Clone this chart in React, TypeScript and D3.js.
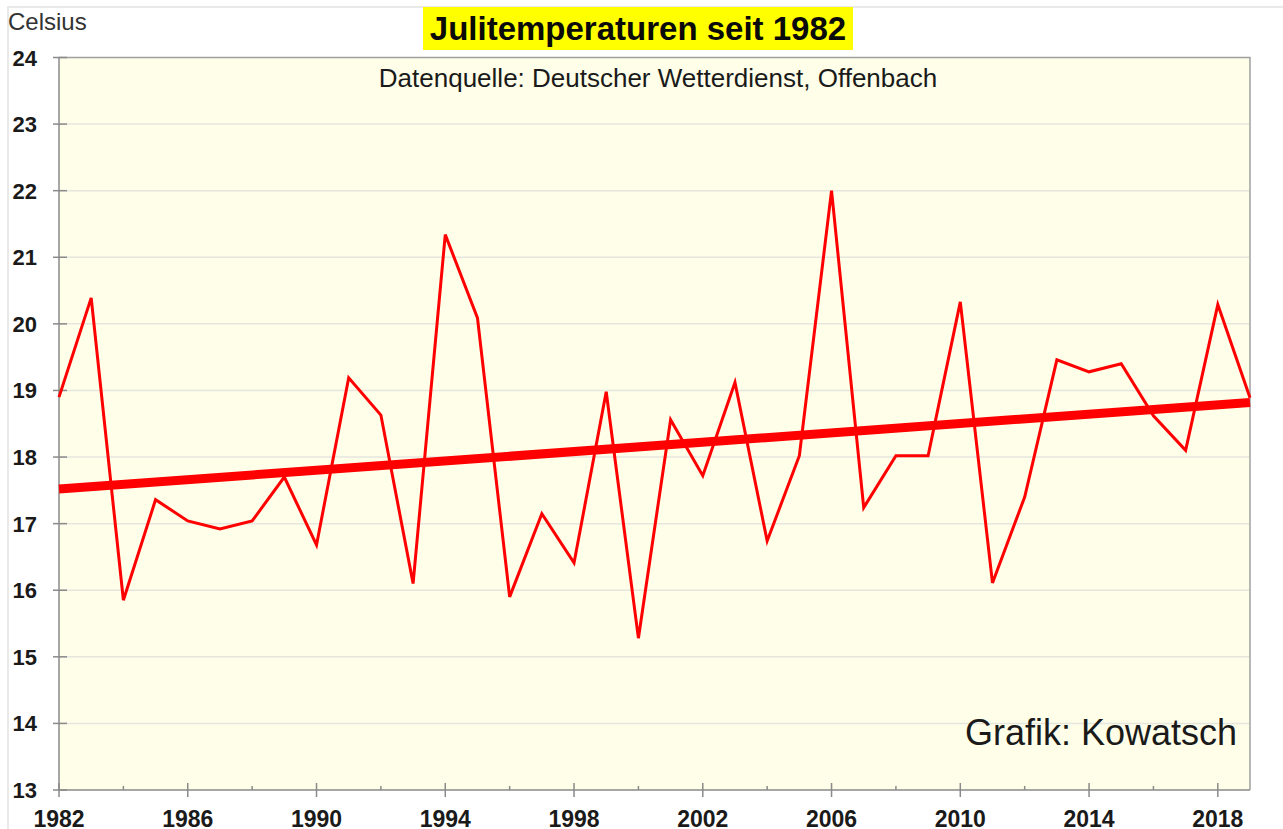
import { useRef, useEffect } from "react";
import { select, scaleLinear, line, range } from "d3";

const years = range(1982, 2020);
const temps = [
  18.9, 20.39, 15.85, 17.36, 17.04, 16.92, 17.04, 17.7, 16.68, 19.19,
  18.63, 16.1, 21.34, 20.09, 15.9, 17.15, 16.41, 18.98, 15.28, 18.56,
  17.72, 19.12, 16.74, 18.02, 22.0, 17.24, 18.02, 18.02, 20.33, 16.11,
  17.4, 19.46, 19.28, 19.4, 18.62, 18.1, 20.29, 18.89,
];
// trend line end points
const trendYears = [1982, 2019];
const trendValues = [17.52, 18.82];
const yTicks = range(13, 25);
const xMajorTicks = range(1982, 2020, 4);
const xMinorTicks = range(1984, 2020, 4);

const W = 1283;
const H = 829;
const FONT = "'Liberation Sans', Arial, sans-serif";

const App = () => {
  const svgRef = useRef(null);

  useEffect(() => {
    const svg = select(svgRef.current);
    svg.selectAll("*").remove();

    const x = scaleLinear().domain([1982, 2019]).range([59, 1250]);
    const y = scaleLinear().domain([13, 24]).range([790, 57.5]);

    // outer frame
    svg.append("rect")
      .attr("x", 8).attr("y", 7).attr("width", 1280).attr("height", 840)
      .attr("fill", "#fff").attr("stroke", "#e2e2e2").attr("stroke-width", 1.5);

    // plot background
    svg.append("rect")
      .attr("x", x(1982)).attr("y", y(24))
      .attr("width", x(2019) - x(1982)).attr("height", y(13) - y(24))
      .attr("fill", "#fefee9");

    // grid lines
    svg.selectAll(".grid")
      .data(yTicks.slice(1, -1))
      .join("line")
      .attr("class", "grid")
      .attr("x1", x(1982)).attr("x2", x(2019))
      .attr("y1", d => y(d)).attr("y2", d => y(d))
      .attr("stroke", "#e6e6df").attr("stroke-width", 1.5);

    // frame of plot: top and right
    svg.append("path")
      .attr("d", `M${x(1982)},${y(24)}H${x(2019)}V${y(13)}`)
      .attr("fill", "none").attr("stroke", "#a0a0a0").attr("stroke-width", 1.5);

    // axes lines
    svg.append("path")
      .attr("d", `M${x(1982)},${y(24)}V${y(13)}H${x(2019)}`)
      .attr("fill", "none").attr("stroke", "#8a8a8a").attr("stroke-width", 1.5);

    // y ticks
    svg.selectAll(".ytick")
      .data(yTicks)
      .join("line")
      .attr("class", "ytick")
      .attr("x1", x(1982) - 6).attr("x2", x(1982) + 8)
      .attr("y1", d => y(d)).attr("y2", d => y(d))
      .attr("stroke", "#8a8a8a").attr("stroke-width", 1.5);

    svg.selectAll(".ylabel")
      .data(yTicks)
      .join("text")
      .attr("class", "ylabel")
      .attr("x", 37).attr("y", d => y(d) + 8)
      .attr("text-anchor", "end")
      .attr("font-family", FONT).attr("font-weight", "bold").attr("font-size", 22)
      .attr("fill", "#1a1a1a")
      .text(d => d);

    // x ticks
    svg.selectAll(".xmajor")
      .data(xMajorTicks)
      .join("line")
      .attr("class", "xmajor")
      .attr("x1", d => x(d)).attr("x2", d => x(d))
      .attr("y1", y(13) - 7).attr("y2", y(13) + 7)
      .attr("stroke", "#8a8a8a").attr("stroke-width", 1.5);

    svg.selectAll(".xminor")
      .data(xMinorTicks)
      .join("line")
      .attr("class", "xminor")
      .attr("x1", d => x(d)).attr("x2", d => x(d))
      .attr("y1", y(13) - 4).attr("y2", y(13))
      .attr("stroke", "#8a8a8a").attr("stroke-width", 1.5);

    svg.selectAll(".xlabel")
      .data(xMajorTicks)
      .join("text")
      .attr("class", "xlabel")
      .attr("x", d => x(d)).attr("y", 827)
      .attr("text-anchor", "middle")
      .attr("font-family", FONT).attr("font-weight", "bold").attr("font-size", 23)
      .attr("fill", "#1a1a1a")
      .text(d => d);

    // data line
    const lineGen = line<number>()
      .x((_, i) => x(years[i]))
      .y(d => y(d));

    svg.append("path")
      .datum(temps)
      .attr("d", lineGen)
      .attr("fill", "none")
      .attr("stroke", "#ff0000")
      .attr("stroke-width", 3)
      .attr("stroke-linejoin", "miter");

    // trend line
    const trendGen = line<number>()
      .x((_, i) => x(trendYears[i]))
      .y(d => y(d));

    svg.append("path")
      .datum(trendValues)
      .attr("d", trendGen)
      .attr("fill", "none")
      .attr("stroke", "#ff0000")
      .attr("stroke-width", 9);

    // title box
    svg.append("rect")
      .attr("x", 423).attr("y", 7).attr("width", 430).attr("height", 43)
      .attr("fill", "#ffff00");
    svg.append("text")
      .attr("x", 638).attr("y", 40)
      .attr("text-anchor", "middle")
      .attr("font-family", FONT).attr("font-weight", "bold").attr("font-size", 33)
      .attr("fill", "#0a0a0a")
      .text("Julitemperaturen seit 1982");

    svg.append("text")
      .attr("x", 658).attr("y", 87)
      .attr("text-anchor", "middle")
      .attr("font-family", FONT).attr("font-size", 26)
      .attr("fill", "#1a1a1a")
      .text("Datenquelle: Deutscher Wetterdienst, Offenbach");

    svg.append("text")
      .attr("x", 8).attr("y", 30)
      .attr("font-family", FONT).attr("font-size", 24)
      .attr("fill", "#333")
      .text("Celsius");

    svg.append("text")
      .attr("x", 1237).attr("y", 745)
      .attr("text-anchor", "end")
      .attr("font-family", FONT).attr("font-size", 36)
      .attr("fill", "#1a1a1a")
      .text("Grafik: Kowatsch");
  }, []);

  return (
    <svg
      ref={svgRef}
      width={W}
      height={H}
      style={{ position: "absolute", left: 0, top: 0, display: "block", background: "#fff" }}
    />
  );
};

export default App;
